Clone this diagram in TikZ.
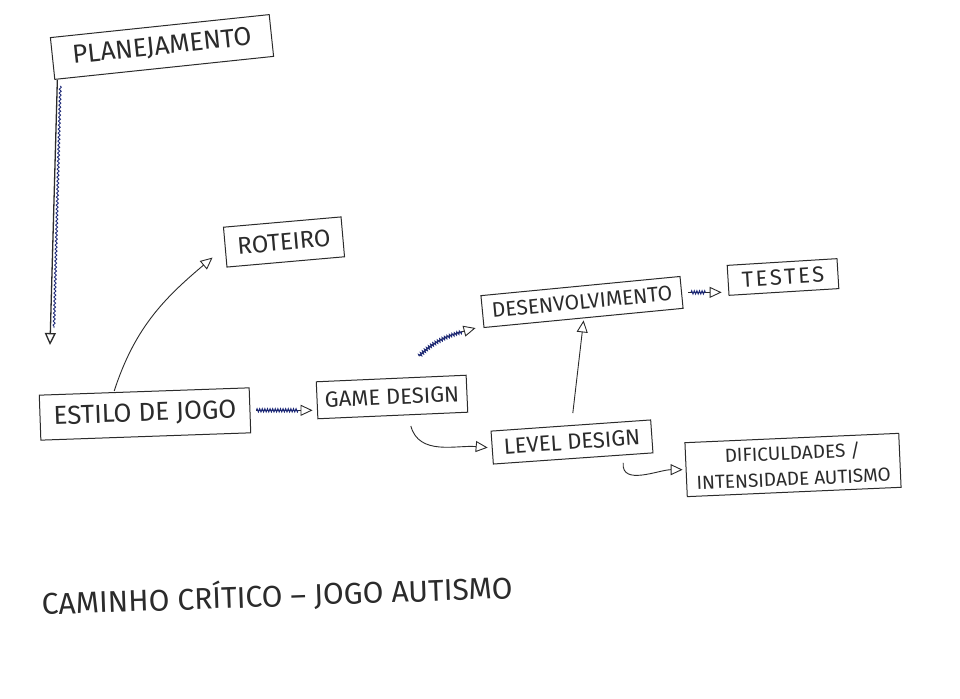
\documentclass[tikz,border=0pt]{standalone}
\usepackage{fontspec}
\setmainfont{Fira Sans}
\usetikzlibrary{arrows.meta,decorations.pathmorphing,calc}
\definecolor{ink}{HTML}{2B2B2B}
\definecolor{blueink}{HTML}{1E2A78}
\begin{document}
\begin{tikzpicture}[x=1pt,y=1pt,
  box/.style={draw=ink, line width=1pt, inner sep=0pt, text=ink, align=center},
  arr/.style={draw=ink, line width=0.9pt, -{Triangle[open,length=12pt,width=11pt]}},
  scrib/.style={draw=blueink, line width=1pt, decorate,
    decoration={zigzag, amplitude=1.6pt, segment length=2.6pt, post=moveto, post length=14pt}},
  fs/.style={font=\fontsize{#1}{#1}\selectfont}
]
\useasboundingbox (0,0) rectangle (960,698);
\fill[white] (0,0) rectangle (960,698);

% nodes
\node[box, fs=26, minimum width=220pt, minimum height=42pt, rotate=6] (plan) at (162,651) {PLANEJAMENTO};
\node[box, fs=24, minimum width=118pt, minimum height=40pt, rotate=5] (roteiro) at (284,456) {ROTEIRO};
\node[box, fs=26, minimum width=210pt, minimum height=45pt, rotate=2] (estilo) at (145,284) {ESTILO DE JOGO};
\node[box, fs=22, minimum width=150pt, minimum height=37pt, rotate=2.5] (game) at (392,301) {GAME DESIGN};
\node[box, fs=21, minimum width=200pt, minimum height=32pt, rotate=5.5] (desenv) at (582,396) {DESENVOLVIMENTO};
\node[box, fs=22, minimum width=110pt, minimum height=30pt, rotate=3.5] (testes) at (783,421) {\addfontfeature{LetterSpace=12}TESTES};
\node[box, fs=22, minimum width=160pt, minimum height=33pt, rotate=4] (level) at (572,256) {LEVEL DESIGN};
\node[box, font=\fontsize{19}{26}\selectfont, minimum width=214pt, minimum height=54pt, rotate=2.5] (dific) at (793,233) {DIFICULDADES /\\INTENSIDADE AUTISMO};
\node[text=ink, fs=30, rotate=2] (titulo) at (277,103) {CAMINHO CRÍTICO – JOGO AUTISMO};

% connectors
\coordinate (planend) at (50,353);
\draw[arr, line width=1.3pt] ([xshift=3pt]plan.south west) -- (planend);
\draw[draw=blueink, line width=0.9pt, decorate, decoration={snake, amplitude=1pt, segment length=4pt}]
  ([xshift=6pt,yshift=-6pt]plan.south west) -- ([xshift=4pt,yshift=17pt]planend);

\draw[arr] ([xshift=-30pt]estilo.north) to[out=72, in=220] ([shift={(-14pt,10pt)}]roteiro.south west);

\draw[arr] ([xshift=6pt]estilo.east) -- ([xshift=-4pt]estilo.east -| game.west);
\draw[scrib] ([xshift=6pt]estilo.east) -- ([xshift=-4pt]estilo.east -| game.west);

\draw[arr] ([shift={(28pt,22pt)}]game.north) to[out=45, in=195] ([xshift=-8pt]desenv.south west);
\draw[scrib] ([shift={(28pt,22pt)}]game.north) to[out=45, in=195] ([xshift=-8pt]desenv.south west);

\draw[arr] ([xshift=6pt]desenv.east) -- ([xshift=-6pt]desenv.east -| testes.west);
\draw[scrib, decoration={post length=16pt}] ([xshift=9pt]desenv.east) -- ([xshift=-6pt]desenv.east -| testes.west);

\draw[arr] ([shift={(18pt,-10pt)}]game.south) to[out=-75, in=175] ([xshift=-4pt]level.west);

\draw[arr] ([shift={(2pt,12pt)}]level.north) -- ([yshift=-2pt]desenv.south);

\draw[arr] ([shift={(50pt,-4pt)}]level.south) to[out=-95, in=180] ([xshift=-3pt]dific.west);
\end{tikzpicture}
\end{document}
